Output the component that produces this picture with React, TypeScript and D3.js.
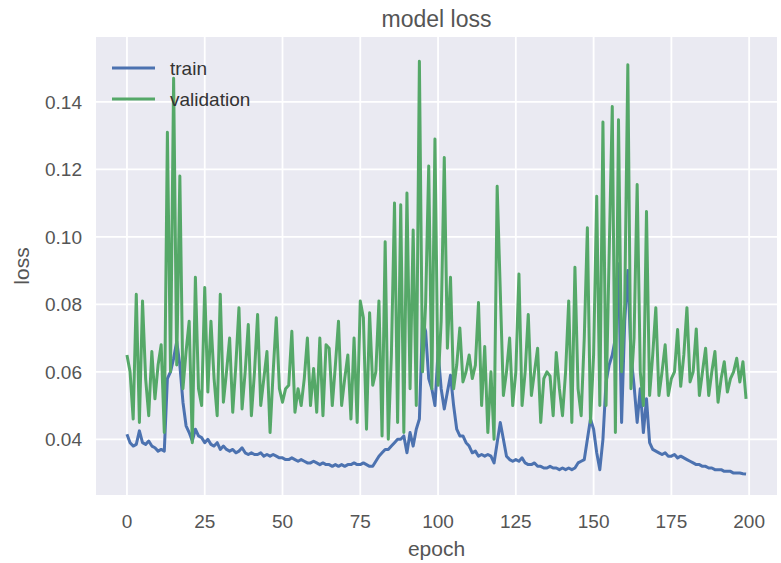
import React, { useEffect, useRef } from "react";
import * as d3 from "d3";

const W = 781;
const H = 563;
const margin = { top: 37, right: 4, bottom: 68, left: 96 };

const trainLoss = [
  0.0415, 0.039, 0.038, 0.0385, 0.0425, 0.039, 0.0385, 0.0395, 0.038, 0.0375,
  0.0365, 0.037, 0.0365, 0.058, 0.06, 0.064, 0.069, 0.062, 0.051, 0.044,
  0.042, 0.0395, 0.043, 0.041, 0.0405, 0.039, 0.04, 0.0385, 0.038, 0.039,
  0.037, 0.038, 0.037, 0.0365, 0.037, 0.036, 0.0365, 0.0375, 0.036, 0.0355,
  0.036, 0.0355, 0.0355, 0.036, 0.035, 0.0355, 0.035, 0.0355, 0.035, 0.0345,
  0.0345, 0.034, 0.034, 0.0345, 0.034, 0.0335, 0.034, 0.0335, 0.033, 0.033,
  0.0335, 0.033, 0.0325, 0.033, 0.0325, 0.0325, 0.032, 0.0325, 0.032, 0.0325,
  0.032, 0.0325, 0.0325, 0.033, 0.0325, 0.0325, 0.033, 0.0325, 0.032, 0.032,
  0.0335, 0.035, 0.036, 0.037, 0.037, 0.038, 0.039, 0.04, 0.04, 0.041,
  0.036, 0.042, 0.038, 0.043, 0.046, 0.075, 0.072, 0.058, 0.055, 0.05,
  0.066, 0.055, 0.049, 0.054, 0.059, 0.05, 0.043, 0.041, 0.041, 0.039,
  0.038, 0.036, 0.0365, 0.035, 0.0355, 0.035, 0.0355, 0.035, 0.033, 0.039,
  0.045, 0.04, 0.035, 0.034, 0.0335, 0.034, 0.0335, 0.0345, 0.033, 0.0325,
  0.0325, 0.033, 0.032, 0.032, 0.0315, 0.0315, 0.032, 0.0315, 0.0315, 0.031,
  0.0315, 0.031, 0.0315, 0.031, 0.0315, 0.033, 0.0335, 0.034, 0.04, 0.046,
  0.043, 0.036, 0.031, 0.04, 0.057, 0.062, 0.065, 0.07, 0.092, 0.045,
  0.075, 0.09, 0.065, 0.056, 0.045, 0.055, 0.042, 0.052, 0.039, 0.037,
  0.0365, 0.036, 0.0355, 0.036, 0.035, 0.035, 0.0355, 0.0345, 0.035, 0.0345,
  0.034, 0.0335, 0.033, 0.0325, 0.0325, 0.032, 0.032, 0.0315, 0.0315, 0.031,
  0.031, 0.031, 0.0305, 0.0305, 0.0305, 0.03, 0.03, 0.03, 0.0298, 0.0297,
];

const valLoss = [
  0.065, 0.06, 0.046, 0.083, 0.045, 0.081, 0.058, 0.047, 0.066, 0.052,
  0.062, 0.068, 0.042, 0.131, 0.06, 0.147, 0.062, 0.118, 0.055, 0.066,
  0.075, 0.039, 0.088, 0.055, 0.05, 0.085, 0.054, 0.075, 0.058, 0.047,
  0.083, 0.051, 0.06, 0.07, 0.048, 0.062, 0.079, 0.049, 0.06, 0.074,
  0.047, 0.06, 0.077, 0.05, 0.058, 0.066, 0.042, 0.06, 0.076, 0.055,
  0.051, 0.055, 0.056, 0.072, 0.048, 0.055, 0.05, 0.058, 0.07, 0.05,
  0.061, 0.048, 0.07, 0.047, 0.068, 0.067, 0.05, 0.062, 0.075, 0.05,
  0.058, 0.065, 0.046, 0.07, 0.045, 0.081, 0.076, 0.043, 0.0775, 0.056,
  0.06, 0.081, 0.041, 0.0985, 0.04, 0.065, 0.11, 0.045, 0.1095, 0.042,
  0.113, 0.055, 0.102, 0.05, 0.152, 0.06, 0.08, 0.121, 0.055, 0.129,
  0.056, 0.075, 0.1235, 0.067, 0.088, 0.055, 0.062, 0.073, 0.057, 0.06,
  0.065, 0.058, 0.062, 0.0805, 0.05, 0.0675, 0.042, 0.06, 0.04, 0.115,
  0.084, 0.053, 0.06, 0.07, 0.05, 0.06, 0.089, 0.05, 0.06, 0.077,
  0.053, 0.06, 0.067, 0.045, 0.058, 0.06, 0.0587, 0.047, 0.0657, 0.055,
  0.047, 0.06, 0.081, 0.045, 0.091, 0.055, 0.047, 0.07, 0.1027, 0.045,
  0.065, 0.112, 0.05, 0.134, 0.05, 0.095, 0.1386, 0.042, 0.1347, 0.06,
  0.08, 0.151, 0.055, 0.07, 0.1155, 0.06, 0.05, 0.1075, 0.053, 0.065,
  0.079, 0.053, 0.06, 0.068, 0.053, 0.058, 0.06, 0.0725, 0.0557, 0.065,
  0.079, 0.057, 0.06, 0.0727, 0.053, 0.06, 0.067, 0.053, 0.06, 0.066,
  0.051, 0.058, 0.063, 0.054, 0.058, 0.06, 0.064, 0.057, 0.063, 0.052,
];

const xTicks = [0, 25, 50, 75, 100, 125, 150, 175, 200];
const yTicks = [0.04, 0.06, 0.08, 0.1, 0.12, 0.14];
const seriesNames = ["train", "validation"];
const seriesColors = ["#4C72B0", "#55A868"];

const FONT = "'Liberation Sans', Arial, sans-serif";

const App = () => {
  const ref = useRef<SVGSVGElement>(null);

  useEffect(() => {
    const root = d3.select(ref.current);
    root.selectAll("*").remove();

    const iw = W - margin.left - margin.right;
    const ih = H - margin.top - margin.bottom;

    const x = d3.scaleLinear().domain([-9.95, 208.95]).range([0, iw]);
    const y = d3.scaleLinear().domain([0.0235, 0.1592]).range([ih, 0]);

    const g = root.append("g").attr("transform", `translate(${margin.left},${margin.top})`);

    g.append("rect").attr("width", iw).attr("height", ih).attr("fill", "#EAEAF2");

    // grid
    g.selectAll(".gx").data(xTicks).enter().append("line")
      .attr("x1", (d) => x(d)).attr("x2", (d) => x(d))
      .attr("y1", 0).attr("y2", ih)
      .attr("stroke", "#fff").attr("stroke-width", 1.8);
    g.selectAll(".gy").data(yTicks).enter().append("line")
      .attr("y1", (d) => y(d)).attr("y2", (d) => y(d))
      .attr("x1", 0).attr("x2", iw)
      .attr("stroke", "#fff").attr("stroke-width", 1.8);

    // tick labels
    g.selectAll(".tx").data(xTicks).enter().append("text")
      .attr("x", (d) => x(d)).attr("y", ih + 33)
      .attr("text-anchor", "middle")
      .attr("font-family", FONT).attr("font-size", 19).attr("fill", "#555")
      .text((d) => String(d));
    g.selectAll(".ty").data(yTicks).enter().append("text")
      .attr("x", -14).attr("y", (d) => y(d)).attr("dy", "0.36em")
      .attr("text-anchor", "end")
      .attr("font-family", FONT).attr("font-size", 19).attr("fill", "#555")
      .text((d) => d3.format(".2f")(d));

    // lines
    const line = d3.line<number>()
      .x((d, i) => x(i))
      .y((d) => y(d));

    [trainLoss, valLoss].forEach((s, k) => {
      g.append("path")
        .datum(s)
        .attr("d", line)
        .attr("fill", "none")
        .attr("stroke", seriesColors[k])
        .attr("stroke-width", 3)
        .attr("stroke-linejoin", "round");
    });

    // legend
    seriesNames.forEach((name, k) => {
      const ly = 31 + k * 31;
      g.append("line")
        .attr("x1", 16).attr("x2", 59).attr("y1", ly).attr("y2", ly)
        .attr("stroke", seriesColors[k]).attr("stroke-width", 3);
      g.append("text")
        .attr("x", 74).attr("y", ly).attr("dy", "0.36em")
        .attr("font-family", FONT).attr("font-size", 19).attr("fill", "#333")
        .text(name);
    });

    // titles
    root.append("text")
      .attr("x", margin.left + iw / 2).attr("y", 27)
      .attr("text-anchor", "middle")
      .attr("font-family", FONT).attr("font-size", 23).attr("fill", "#555")
      .text("model loss");
    root.append("text")
      .attr("x", margin.left + iw / 2).attr("y", 556)
      .attr("text-anchor", "middle")
      .attr("font-family", FONT).attr("font-size", 21).attr("fill", "#555")
      .text("epoch");
    root.append("text")
      .attr("transform", `translate(29,${margin.top + ih / 2}) rotate(-90)`)
      .attr("text-anchor", "middle")
      .attr("font-family", FONT).attr("font-size", 21).attr("fill", "#555")
      .text("loss");
  }, []);

  return (
    <div style={{ position: "absolute", left: 0, top: 0 }}>
      <svg ref={ref} width={W} height={H} style={{ display: "block", background: "#fff" }} />
    </div>
  );
};

export default App;
